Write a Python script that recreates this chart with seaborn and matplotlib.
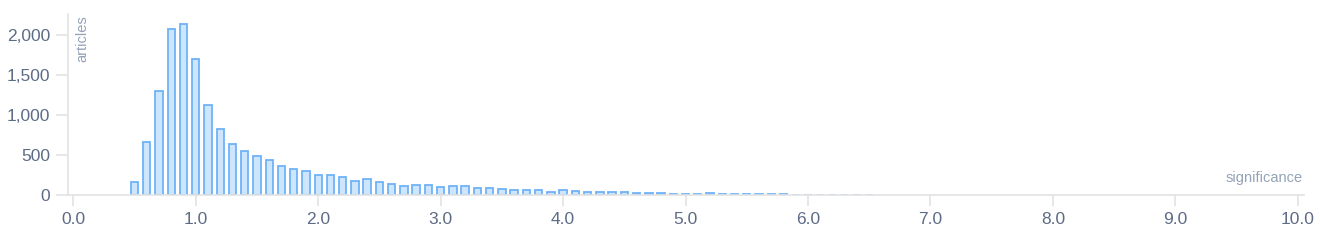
import matplotlib
matplotlib.use("Agg")
import matplotlib.pyplot as plt
import matplotlib.ticker as mticker
import seaborn as sns
import pandas as pd
import numpy as np

# significance bins (bin centers) and article counts
significance = [round(0.5 + 0.1 * i, 1) for i in range(61)]
articles = [165, 660, 1296, 2071, 2140, 1700, 1121, 821, 637, 546,
            483, 433, 367, 329, 302, 244, 254, 225, 175, 200,
            158, 133, 117, 129, 121, 100, 108, 112, 92, 92,
            80, 67, 62, 58, 42, 58, 54, 33, 38, 33,
            33, 29, 21, 21, 17, 12, 12, 20, 12, 10,
            10, 9, 8, 7, 4, 3, 2, 2, 2, 2, 2]
x_ticks = [0, 1, 2, 3, 4, 5, 6, 7, 8, 9, 10]
y_ticks = [0, 500, 1000, 1500, 2000]

df = pd.DataFrame({"significance": significance, "articles": articles})

sns.set_theme(style="white")
plt.rcParams["font.family"] = ["Liberation Sans", "DejaVu Sans"]

TICK_COLOR = "#5d6b86"
LABEL_COLOR = "#94a3b8"
AXIS_COLOR = "#e3e3e3"

fig = plt.figure(figsize=(13.2, 2.4), dpi=100)
ax = fig.add_axes([68 / 1320, 45 / 240, (1304 - 68) / 1320, (195 - 14) / 240])

sns.barplot(data=df, x="significance", y="articles", native_scale=True,
            width=0.6, color="#cde5fd", saturation=1,
            edgecolor="#6fb3f7", linewidth=1.3, ax=ax)

ax.set_xlim(-0.043, 10.05)
ax.set_ylim(0, 2262)
ax.set_xticks(x_ticks)
ax.xaxis.set_major_formatter(mticker.FuncFormatter(lambda v, p: f"{v:.1f}"))
ax.set_yticks(y_ticks)
ax.yaxis.set_major_formatter(mticker.FuncFormatter(lambda v, p: f"{int(v):,}"))

for side in ["top", "right"]:
    ax.spines[side].set_visible(False)
for side in ["left", "bottom"]:
    ax.spines[side].set_color(AXIS_COLOR)
    ax.spines[side].set_linewidth(1.2)

ax.tick_params(axis="x", length=8, width=1.2, color=AXIS_COLOR,
               labelcolor=TICK_COLOR, labelsize=12.5, pad=4, bottom=True)
ax.tick_params(axis="y", length=9, width=1.2, color=AXIS_COLOR,
               labelcolor=TICK_COLOR, labelsize=12.5, pad=4, left=True)

ax.set_xlabel("")
ax.set_ylabel("")
ax.text(0.006, 0.995, "articles", transform=ax.transAxes, rotation=90,
        ha="left", va="top", fontsize=10.5, color=LABEL_COLOR)
ax.text(0.999, 0.055, "significance", transform=ax.transAxes,
        ha="right", va="bottom", fontsize=10.5, color=LABEL_COLOR)
ax.grid(False)

fig.savefig("out.png", dpi=100)
